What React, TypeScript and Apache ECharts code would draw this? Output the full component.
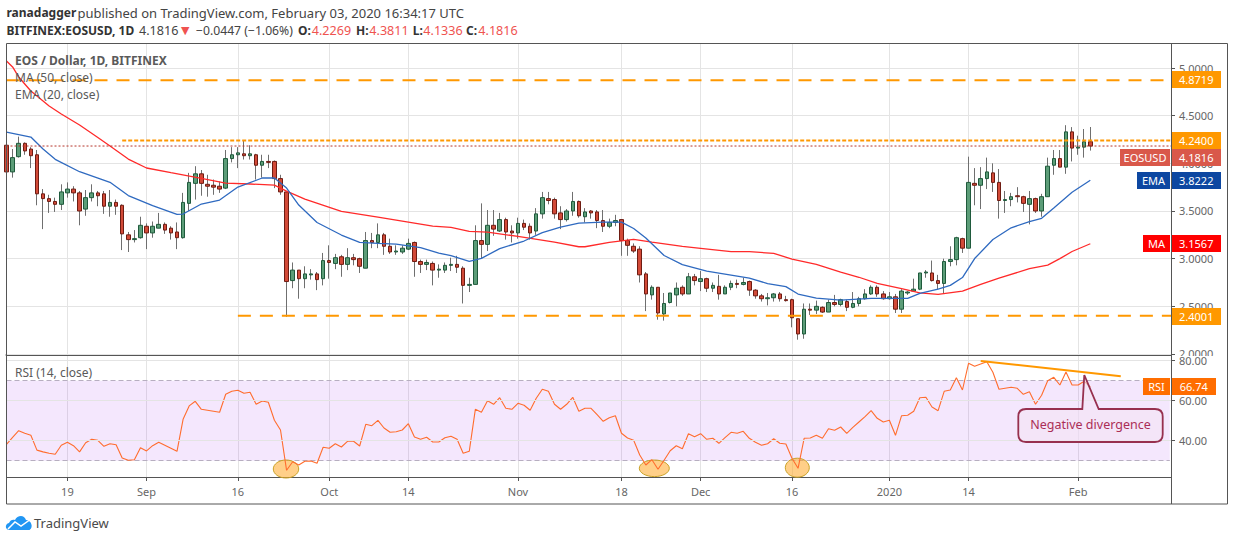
import React, { useEffect, useRef } from "react";
import * as echarts from "echarts";

const FONT = '"Noto Sans", sans-serif';

// Daily candles, 9 Aug 2019 (index 0) to 3 Feb 2020 (index 178)
const opens = [
  4.19,3.91,4.07,4.21,4.15,4.09,3.68,3.63,3.60,3.57,
  3.69,3.73,3.69,3.52,3.64,3.69,3.68,3.55,3.59,3.56,
  3.25,3.20,3.22,3.34,3.27,3.32,3.36,3.32,3.28,3.22,
  3.58,3.79,3.89,3.78,3.77,3.76,3.74,4.05,4.09,4.10,
  4.08,4.09,3.98,4.02,4.02,3.84,3.70,2.77,2.88,2.79,
  2.83,2.84,2.79,2.98,2.95,3.02,2.94,3.01,3.00,2.90,
  3.19,3.17,3.25,3.13,3.07,3.07,3.10,3.17,2.97,2.94,
  2.95,2.88,2.88,2.93,2.94,2.90,2.72,2.73,3.19,3.15,
  3.35,3.29,3.41,3.29,3.27,3.37,3.34,3.29,3.47,3.63,
  3.62,3.48,3.41,3.50,3.60,3.44,3.50,3.49,3.40,3.34,
  3.38,3.41,3.19,3.13,3.10,2.84,2.62,2.70,2.42,2.54,
  2.62,2.70,2.63,2.81,2.76,2.79,2.69,2.71,2.63,2.70,
  2.74,2.73,2.76,2.67,2.61,2.58,2.59,2.63,2.57,2.57,
  2.37,2.21,2.47,2.46,2.49,2.44,2.54,2.52,2.55,2.49,
  2.53,2.58,2.63,2.70,2.63,2.58,2.60,2.47,2.64,2.66,
  2.68,2.85,2.85,2.77,2.74,2.97,2.99,3.21,3.11,3.79,
  3.77,3.84,3.90,3.80,3.61,3.62,3.66,3.65,3.57,3.63,
  3.50,3.65,3.98,4.05,3.96,4.33,4.16,4.17,4.2269,
];
const closes = [
  3.91,4.06,4.21,4.13,4.08,3.68,3.63,3.60,3.57,3.70,
  3.73,3.69,3.50,3.64,3.69,3.66,3.55,3.59,3.55,3.26,
  3.20,3.21,3.35,3.27,3.34,3.36,3.30,3.27,3.22,3.59,
  3.80,3.89,3.79,3.76,3.75,3.73,4.05,4.09,4.11,4.08,
  4.10,3.98,4.02,4.01,3.84,3.70,2.76,2.88,2.79,2.84,
  2.84,2.78,2.98,2.96,3.01,2.94,3.01,2.99,2.92,3.19,
  3.17,3.25,3.13,3.07,3.08,3.11,3.16,2.97,2.94,2.96,
  2.88,2.89,2.93,2.94,2.91,2.72,2.73,3.19,3.15,3.35,
  3.31,3.41,3.28,3.27,3.37,3.33,3.27,3.47,3.64,3.61,
  3.47,3.41,3.50,3.60,3.45,3.49,3.48,3.40,3.34,3.38,
  3.40,3.19,3.14,3.08,2.83,2.63,2.70,2.43,2.53,2.64,
  2.69,2.63,2.81,2.77,2.79,2.69,2.72,2.63,2.70,2.74,
  2.73,2.75,2.67,2.61,2.58,2.59,2.63,2.58,2.56,2.38,
  2.21,2.47,2.46,2.50,2.44,2.54,2.52,2.57,2.49,2.53,
  2.58,2.63,2.70,2.63,2.58,2.60,2.47,2.66,2.65,2.68,
  2.85,2.86,2.77,2.74,2.97,2.99,3.22,3.11,3.80,3.77,
  3.84,3.91,3.80,3.61,3.62,3.65,3.65,3.58,3.63,3.50,
  3.65,3.97,4.05,3.96,4.33,4.16,4.17,4.2263,4.1816,
];
const lows = [
  3.86,3.85,4.06,4.09,3.95,3.56,3.31,3.48,3.49,3.51,
  3.64,3.60,3.35,3.45,3.60,3.55,3.47,3.44,3.46,3.09,
  3.07,3.17,3.21,3.10,3.22,3.32,3.26,3.20,3.10,3.21,
  3.50,3.62,3.66,3.65,3.67,3.69,3.73,4.01,3.95,4.04,
  4.04,3.83,3.85,3.95,3.74,3.67,2.39,2.69,2.58,2.69,
  2.78,2.67,2.72,2.79,2.89,2.81,2.88,2.93,2.85,2.90,
  3.11,3.11,3.04,3.05,3.04,3.05,3.09,2.81,2.85,2.88,
  2.72,2.80,2.85,2.87,2.85,2.53,2.65,2.73,3.00,3.08,
  3.24,3.28,3.20,3.17,3.21,3.30,3.20,3.25,3.42,3.57,
  3.42,3.31,3.39,3.45,3.43,3.38,3.42,3.32,3.28,3.32,
  3.34,3.03,3.03,3.06,2.75,2.45,2.57,2.36,2.35,2.53,
  2.50,2.61,2.63,2.72,2.66,2.65,2.65,2.57,2.63,2.67,
  2.69,2.72,2.61,2.58,2.55,2.51,2.55,2.55,2.55,2.28,
  2.15,2.16,2.41,2.42,2.43,2.44,2.50,2.50,2.45,2.48,
  2.50,2.57,2.62,2.60,2.57,2.57,2.43,2.43,2.62,2.65,
  2.67,2.80,2.76,2.68,2.64,2.92,2.93,3.06,3.11,3.56,
  3.52,3.73,3.70,3.42,3.48,3.55,3.59,3.49,3.36,3.48,
  3.44,3.65,3.88,3.96,3.89,4.02,4.09,4.06,4.1336,
];
const highs = [
  4.21,4.15,4.28,4.22,4.17,4.14,3.73,3.67,3.64,3.78,
  3.80,3.76,3.71,3.72,3.78,3.71,3.71,3.72,3.62,3.57,
  3.28,3.30,3.44,3.37,3.39,3.48,3.38,3.34,3.38,3.69,
  3.90,3.97,3.93,3.88,3.83,3.81,4.14,4.17,4.17,4.24,
  4.19,4.10,4.09,4.09,4.03,3.88,3.70,2.96,2.88,2.92,
  2.89,2.86,3.06,3.14,3.05,3.04,3.11,3.05,3.01,3.28,
  3.27,3.37,3.27,3.21,3.14,3.14,3.21,3.18,2.99,2.99,
  2.97,2.94,2.96,3.01,3.03,2.92,2.80,3.35,3.58,3.51,
  3.51,3.48,3.43,3.35,3.43,3.41,3.37,3.53,3.70,3.70,
  3.64,3.55,3.52,3.70,3.61,3.53,3.51,3.51,3.51,3.42,
  3.46,3.41,3.21,3.16,3.13,2.86,2.72,2.70,2.64,2.64,
  2.75,2.72,2.85,2.84,2.87,2.80,2.75,2.83,2.72,2.77,
  2.78,2.80,2.77,2.68,2.63,2.64,2.64,2.65,2.61,2.58,
  2.37,2.53,2.53,2.56,2.50,2.57,2.62,2.58,2.57,2.65,
  2.60,2.68,2.72,2.72,2.66,2.65,2.63,2.68,2.66,2.79,
  2.85,2.88,2.98,2.83,3.00,3.13,3.23,3.22,4.07,3.95,
  3.96,4.06,4.00,3.94,3.71,3.69,3.75,3.66,3.71,3.64,
  3.68,4.06,4.14,4.14,4.40,4.38,4.29,4.36,4.3811,
];

// Moving averages: [candle index, value]
const maReadings = [
  [0,5.073],[1,5.011],[2,4.906],[4,4.759],[7,4.601],[9,4.517],[12,4.402],[15,4.271],[17,4.182],
  [20,4.045],[23,3.951],[27,3.902],[32,3.843],[36,3.793],[40,3.783],[44,3.772],[46,3.709],[49,3.625],
  [55,3.496],[61,3.436],[68,3.363],[70,3.342],[73,3.328],[76,3.286],[79,3.279],[84,3.233],[90,3.174],
  [94,3.125],[95,3.125],[99,3.171],[103,3.202],[106,3.174],[111,3.129],[114,3.108],[119,3.073],
  [122,3.073],[126,3.056],[129,2.996],[133,2.940],[137,2.859],[140,2.805],[143,2.741],[147,2.685],
  [150,2.642],[153,2.625],[157,2.660],[160,2.730],[163,2.795],[168,2.896],[171,2.933],[173,3.000],
  [175,3.075],[178,3.1567],
];
const emaReadings = [
  [0,4.328],[4,4.276],[6,4.150],[8,4.042],[12,3.912],[17,3.801],[20,3.662],[24,3.557],[28,3.465],
  [29,3.468],[32,3.573],[35,3.615],[38,3.751],[42,3.846],[44,3.846],[46,3.741],[48,3.562],[51,3.379],
  [55,3.248],[58,3.171],[61,3.161],[64,3.153],[68,3.116],[71,3.059],[73,3.031],[76,2.972],[78,3.003],
  [81,3.106],[85,3.185],[88,3.274],[91,3.331],[94,3.373],[98,3.384],[101,3.384],[103,3.316],[105,3.216],
  [108,3.033],[111,2.938],[115,2.870],[120,2.817],[122,2.796],[125,2.739],[128,2.707],[130,2.629],
  [133,2.587],[137,2.566],[142,2.583],[148,2.583],[150,2.636],[153,2.681],[155,2.720],[157,2.802],
  [159,3.001],[162,3.201],[165,3.324],[168,3.389],[170,3.423],[172,3.531],[175,3.696],[178,3.8222],
];

const rsiValues = [
  38.2,41.7,45.0,43.7,42.7,35.3,34.4,33.7,33.2,37.7,
  39.2,37.5,34.4,39.0,40.7,40.2,37.2,38.5,38.0,31.4,
  30.2,30.5,36.5,34.9,37.5,39.2,37.7,36.2,34.7,50.7,
  57.4,59.7,55.7,55.2,54.7,54.2,63.2,64.7,65.2,63.7,
  64.2,58.2,59.85,59.2,50.2,45.35,25.2,29.5,27.85,29.7,
  29.85,28.7,36.7,36.2,38.5,36.85,39.7,39.7,37.35,48.2,
  47.5,50.2,46.35,44.2,44.5,45.35,48.5,41.85,40.7,41.7,
  39.35,39.35,41.5,42.2,40.7,33.7,34.7,55.7,54.2,60.0,
  58.2,61.5,56.2,55.7,58.7,57.7,55.2,61.2,65.7,64.7,
  58.2,55.7,58.2,61.7,54.7,56.2,56.2,53.0,49.7,51.5,
  52.5,43.7,41.35,40.2,32.85,27.85,30.5,25.7,30.2,35.0,
  37.5,36.0,43.5,42.0,43.5,40.7,41.2,38.7,41.5,44.2,
  43.7,44.7,41.2,39.2,37.7,38.5,41.0,38.7,38.35,31.2,
  26.2,41.2,41.35,42.7,41.2,46.0,45.2,46.85,43.7,46.7,
  49.35,52.0,55.0,51.2,49.35,50.2,42.7,52.5,52.7,54.7,
  61.5,61.7,56.85,55.0,64.7,65.35,71.5,65.35,78.7,77.2,
  78.35,79.5,74.2,65.7,66.2,66.7,66.2,63.2,64.5,58.2,
  62.7,70.0,71.7,67.85,74.35,67.85,67.85,69.7,66.74,
];

const timeTickIndex = [10, 23, 38, 53, 66, 84, 101, 114, 129, 145, 158, 176];
const timeTickLabels = ["19", "Sep", "16", "Oct", "14", "Nov", "18", "Dec", "16", "2020", "14", "Feb"];
const priceTicks = [2, 2.5, 3, 3.5, 4, 4.5, 5];
const rsiTicks = [40, 60, 80];

const resistanceHigh = [[0, 4.8719], [191.25, 4.8719]];
const resistanceMid = [[19, 4.24], [191.25, 4.24]];
const supportLow = [[38, 2.4001], [191.25, 2.4001]];
const lastPriceLine = [[0, 4.1816], [191.25, 4.1816]];
const rsiTrendLine = [[160, 79.85], [183, 72.2]];

const X_MAX = 191.25;

const CALLOUT =
  "M1026 409 L1082.3 409 L1084.3 375 L1098.7 409 L1155 409 Q1162.7 409 1162.7 416.5 L1162.7 434.5 Q1162.7 442 1155 442 L1026 442 Q1018.3 442 1018.3 434.5 L1018.3 416.5 Q1018.3 409 1026 409 Z";
const CLOUD =
  "M9.5 530 C5 530 4.5 524 9 523 C10 520 13 519 15 520 C17 515.5 24 514 26 520 C31 520 34 527 29.5 530 Z";
echarts.graphic.registerShape("callout", echarts.graphic.extendPath(CALLOUT, {}) as any);
echarts.graphic.registerShape("cloud", echarts.graphic.extendPath(CLOUD, {}) as any);

const box = (x: number, y: number, w: number, fill: string, text: string) => [
  { type: "rect", z: 20, shape: { x, y, width: w, height: 17 }, style: { fill } },
  {
    type: "text",
    z: 21,
    style: {
      x: x + w / 2,
      y: y + 8.5,
      text,
      fill: "#ffffff",
      font: `11px ${FONT}`,
      textAlign: "center",
      textVerticalAlign: "middle",
    },
  },
];

const txt = (x: number, y: number, text: string, font: string, fill: string) => ({
  type: "text",
  z: 22,
  style: { x, y, text, font, fill, textVerticalAlign: "middle" },
});

const ellipse = (cx: number, cy: number, rx: number, ry: number) => ({
  type: "ellipse",
  z: 6,
  shape: { cx, cy, rx, ry },
  style: { fill: "rgba(255,167,38,0.55)", stroke: "#c9a227", lineWidth: 1 },
});

const RED = "#ef5350";
const B = `bold 12px ${FONT}`;
const R = `13px ${FONT}`;
const V = `12.6px ${FONT}`;

export default function App() {
  const ref = useRef<HTMLDivElement>(null);
  useEffect(() => {
    document.body.style.margin = "0";
    const chart = echarts.init(ref.current!, undefined, { renderer: "svg" });
    const idx = opens.map((_, i) => i);
    const wicks = idx.map((i) => [i, opens[i], closes[i], lows[i], highs[i]]);
    const bodies = idx.map((i) => [
      i,
      opens[i],
      closes[i],
      Math.min(opens[i], closes[i]),
      Math.max(opens[i], closes[i]),
    ]);
    const rsi = rsiValues.map((v, i) => [i, v]);
    const xLabel = (v: number) => timeTickLabels[timeTickIndex.indexOf(v)] ?? "";
    const grey = "#666666";
    const gridLine = { show: true, lineStyle: { color: "#e4e4e4", width: 1 } };
    const plain = (data: number[][], color: string, width: number, type: any, xi = 0, z = 3) => ({
      type: "line",
      xAxisIndex: xi,
      yAxisIndex: xi,
      data,
      showSymbol: false,
      symbol: "none",
      silent: true,
      z,
      lineStyle: { color, width, type },
    });

    chart.setOption({
      animation: false,
      backgroundColor: "#ffffff",
      textStyle: { fontFamily: FONT },
      grid: [
        { left: 6.5, top: 43.5, width: 1164.5, height: 311.5 },
        { left: 6.5, top: 355, width: 1164.5, height: 122 },
      ],
      xAxis: [
        {
          type: "value",
          gridIndex: 0,
          min: 0,
          max: X_MAX,
          axisLine: { show: true, onZero: false, lineStyle: { color: "#555555", width: 2 } },
          axisTick: { show: false, customValues: timeTickIndex },
          axisLabel: { show: false, customValues: timeTickIndex },
          splitLine: gridLine,
        },
        {
          type: "value",
          gridIndex: 1,
          min: 0,
          max: X_MAX,
          axisLine: { show: true, onZero: false, lineStyle: { color: "#555555", width: 1 } },
          axisTick: { show: true, length: 4, customValues: timeTickIndex, lineStyle: { color: "#555555" } },
          axisLabel: {
            show: true,
            customValues: timeTickIndex,
            formatter: xLabel,
            color: grey,
            fontFamily: FONT,
            fontSize: 11,
            margin: 9,
          },
          splitLine: gridLine,
        },
      ],
      yAxis: [
        {
          type: "value",
          gridIndex: 0,
          position: "right",
          min: 1.9895,
          max: 5.257,
          z: 1,
          axisLine: { show: true, onZero: false, lineStyle: { color: "#555555" } },
          axisTick: { show: true, length: 4, customValues: priceTicks, lineStyle: { color: "#555555" } },
          axisLabel: {
            show: true,
            customValues: priceTicks,
            formatter: (v: number) => v.toFixed(4),
            color: grey,
            fontFamily: FONT,
            fontSize: 11,
            margin: 8,
          },
          splitLine: gridLine,
        },
        {
          type: "value",
          gridIndex: 1,
          position: "right",
          min: 21.85,
          max: 82.85,
          z: 8,
          axisLine: { show: true, onZero: false, lineStyle: { color: "#555555" } },
          axisTick: { show: true, length: 4, customValues: rsiTicks, lineStyle: { color: "#555555" } },
          axisLabel: {
            show: true,
            customValues: rsiTicks,
            formatter: (v: number) => v.toFixed(2),
            color: grey,
            fontFamily: FONT,
            fontSize: 11,
            margin: 8,
          },
          splitLine: gridLine,
        },
      ],
      series: [
        {
          type: "candlestick",
          name: "wicks",
          xAxisIndex: 0,
          yAxisIndex: 0,
          data: wicks,
          barWidth: 1,
          z: 2,
          silent: true,
          itemStyle: { color: "#6f6f6f", color0: "#6f6f6f", borderColor: "#6f6f6f", borderColor0: "#6f6f6f", borderWidth: 1 },
        },
        {
          type: "candlestick",
          name: "bodies",
          xAxisIndex: 0,
          yAxisIndex: 0,
          data: bodies,
          barWidth: 4,
          z: 3,
          silent: true,
          itemStyle: { color: "#5c9d78", color0: "#d24a38", borderColor: "#1f5a3c", borderColor0: "#6e1c12", borderWidth: 1 },
        },
        plain(maReadings, "#ff2a2a", 1.3, "solid", 0, 4),
        plain(emaReadings, "#2f6ac0", 1.3, "solid", 0, 4),
        plain(resistanceHigh, "#ff9800", 2, [13, 9], 0, 5),
        plain(resistanceMid, "#ff9800", 2, [4, 2], 0, 5),
        plain(supportLow, "#ff9800", 2, [13, 9], 0, 5),
        plain(lastPriceLine, "#b5352a", 1, [2, 2], 0, 4),
        {
          ...plain(rsi, "#ff6d2e", 1.1, "solid", 1, 7),
          markArea: {
            silent: true,
            z: 1,
            itemStyle: { color: "rgba(156,39,240,0.11)" },
            data: [[{ xAxis: 0, yAxis: 70 }, { xAxis: X_MAX - 0.2, yAxis: 30 }]],
          },
          markLine: {
            silent: true,
            symbol: "none",
            z: 2,
            label: { show: false },
            lineStyle: { color: "#b7aec0", width: 1, type: [5, 3] },
            data: [[{ xAxis: 0, yAxis: 70 }, { xAxis: X_MAX - 0.2, yAxis: 70 }], [{ xAxis: 0, yAxis: 30 }, { xAxis: X_MAX - 0.2, yAxis: 30 }]],
          },
        },
        plain(rsiTrendLine, "#ff9800", 2, "solid", 1, 8),
      ],
      graphic: [
        { type: "rect", z: 2, shape: { x: 1172, y: 356, width: 54, height: 5 }, style: { fill: "#ffffff" } },
        { type: "rect", z: 30, shape: { x: 6.5, y: 43.5, width: 1221, height: 460.5 }, style: { fill: "none", stroke: "#555555", lineWidth: 1 } },
        { type: "line", z: 30, shape: { x1: 1171.5, y1: 43.5, x2: 1171.5, y2: 504 }, style: { stroke: "#555555", lineWidth: 1 } },
        ellipse(286, 469, 12.7, 9),
        ellipse(654.3, 468.3, 15, 8.3),
        ellipse(797.3, 467.7, 12, 9.5),
        { type: "callout", z: 9, style: { fill: "rgba(243,229,245,0.6)", stroke: "#97304f", lineWidth: 1.8 } },
        { type: "text", z: 22, style: { x: 1090.5, y: 424.5, text: "Negative divergence", fill: "#ab2e56", font: `12.5px ${FONT}`, textAlign: "center", textVerticalAlign: "middle" } },
        ...box(1171.5, 71, 49.5, "#ff9800", "4.8719"),
        ...box(1171.5, 132, 49.5, "#ff9800", "4.2400"),
        ...box(1120, 149, 50, "#d9584a", "EOSUSD"),
        ...box(1171.5, 149, 49.5, "#d9584a", "4.1816"),
        ...box(1137, 172, 33, "#0d47a1", "EMA"),
        ...box(1171.5, 172, 49.5, "#0d47a1", "3.8222"),
        ...box(1143, 235, 27, "#ff0000", "MA"),
        ...box(1171.5, 235, 49.5, "#ff0000", "3.1567"),
        ...box(1171.5, 308, 49.5, "#ff9800", "2.4001"),
        ...box(1143, 378, 27, "#ff6d00", "RSI"),
        ...box(1171.5, 378, 44.5, "#ff6d00", "66.74"),
        txt(15, 60.5, "EOS / Dollar, 1D, BITFINEX", `bold 12px ${FONT}`, "#5a5a5a"),
        txt(15, 77.5, "MA (50, close)", `12px ${FONT}`, "#5a5a5a"),
        txt(15, 94.5, "EMA (20, close)", `12px ${FONT}`, "#5a5a5a"),
        txt(15, 372.5, "RSI (14, close)", `12px ${FONT}`, "#5a5a5a"),
        txt(6.5, 12.5, "ranadagger", B, "#333333"),
        txt(77.5, 12.5, "published on TradingView.com, February 03, 2020 16:34:17 UTC", R, "#444444"),
        txt(6.5, 30, "BITFINEX:EOSUSD, 1D", B, "#333333"),
        txt(139, 30, "4.1816", V, "#444444"),
        txt(181, 30, "▼", `11px "DejaVu Sans"`, RED),
        txt(196, 30, "−0.0447 (−1.06%)", `12.2px ${FONT}`, "#444444"),
        txt(298, 30, "O:", B, "#333333"),
        txt(311.7, 30, "4.2269", V, RED),
        txt(356, 30, "H:", B, "#333333"),
        txt(369.3, 30, "4.3811", V, RED),
        txt(412.7, 30, "L:", B, "#333333"),
        txt(423.3, 30, "4.1336", V, RED),
        txt(466, 30, "C:", B, "#333333"),
        txt(478.3, 30, "4.1816", V, RED),
        { type: "cloud", z: 22, style: { fill: "#2196f3" } },
        { type: "polyline", z: 23, shape: { points: [[8, 529], [15, 522], [21, 526], [31, 519]] }, style: { stroke: "#ffffff", fill: "none", lineWidth: 1.5 } },
        txt(34, 523, "TradingView", `13px ${FONT}`, "#4a4a4a"),
      ],
    });
    return () => chart.dispose();
  }, []);
  return <div ref={ref} style={{ width: 1234, height: 541 }} />;
}
